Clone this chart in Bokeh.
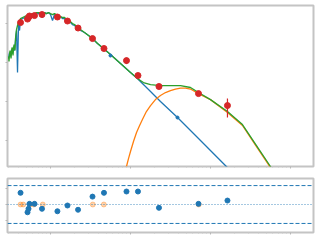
from bokeh.plotting import figure
from bokeh.layouts import column
from bokeh.models import Range1d, FixedTicker, Span
from bokeh.embed import file_html
from bokeh.resources import INLINE

# ---- photosphere model (blue) ----
phot_wl = [0.0299, 0.0307, 0.0316, 0.0326, 0.0335, 0.0345, 0.0355, 0.0365, 0.0376, 0.0387,
           0.0398, 0.0410, 0.0422, 0.0447, 0.0473, 0.0501, 0.0531, 0.0562, 0.0596, 0.0631,
           0.0668, 0.0708, 0.0750, 0.0794, 0.0841, 0.0891, 0.0944, 0.100, 0.106, 0.112,
           0.119, 0.126, 0.133, 0.141, 0.150, 0.158, 0.168, 0.178, 0.188, 0.200,
           0.211, 0.224, 0.237, 0.266, 0.299, 0.335, 0.387, 0.460, 0.562, 0.750,
           1.00, 1.22, 1.78, 2.37, 3.87, 7.50, 15.8, 23.7]
phot_flux = [1.27e-10, 1.80e-10, 1.43e-10, 2.16e-10, 1.70e-10, 2.57e-10, 2.03e-10, 3.66e-10, 6.62e-10, 5.54e-11,
             9.42e-10, 6.62e-10, 1.27e-9, 1.34e-9, 1.43e-9, 1.19e-9, 1.70e-9, 1.51e-9, 1.80e-9, 1.51e-9,
             1.91e-9, 1.80e-9, 1.91e-9, 1.43e-9, 1.91e-9, 1.80e-9, 1.91e-9, 1.70e-9, 1.19e-9, 1.70e-9,
             1.60e-9, 1.27e-9, 1.51e-9, 1.34e-9, 1.34e-9, 1.12e-9, 1.19e-9, 1.06e-9, 9.42e-10, 8.89e-10,
             7.89e-10, 7.44e-10, 6.62e-10, 5.88e-10, 4.92e-10, 4.12e-10, 3.07e-10, 2.29e-10, 1.60e-10, 9.42e-11,
             5.54e-11, 3.89e-11, 1.80e-11, 1.00e-11, 3.89e-12, 1.00e-12, 2.16e-13, 9.42e-14]

# ---- total model (green) ----
total_wl = [0.0299, 0.0303, 0.0307, 0.0312, 0.0316, 0.0321, 0.0326, 0.0330, 0.0335, 0.0340,
            0.0345, 0.0350, 0.0355, 0.0360, 0.0365, 0.0371, 0.0376, 0.0387,
            0.0398, 0.0410, 0.0422, 0.0447, 0.0473, 0.0501, 0.0531, 0.0562, 0.0596, 0.0631,
            0.0668, 0.0708, 0.0750, 0.0794, 0.0841, 0.0891, 0.0944, 0.100, 0.106, 0.112,
            0.119, 0.126, 0.133, 0.141, 0.150, 0.158, 0.168, 0.178, 0.188, 0.200,
            0.211, 0.224, 0.237, 0.266, 0.299, 0.335, 0.387, 0.460, 0.562, 0.750,
            1.00, 1.22, 1.45, 1.78, 2.37, 3.16, 4.22, 5.62, 7.08, 10.0,
            16.3, 25.1, 37.6, 56.2, 75.0]
total_flux = [1.43e-10, 1.06e-10, 1.60e-10, 2.03e-10, 1.80e-10, 1.27e-10, 1.91e-10, 2.43e-10, 2.16e-10, 1.51e-10,
              2.29e-10, 2.90e-10, 2.73e-10, 2.03e-10, 4.12e-10, 5.54e-10, 7.02e-10, 8.89e-10,
              1.06e-9, 1.12e-9, 1.34e-9, 1.43e-9, 1.51e-9, 1.60e-9, 1.70e-9, 1.70e-9, 1.80e-9, 1.70e-9,
              1.91e-9, 1.91e-9, 1.91e-9, 1.80e-9, 1.91e-9, 1.80e-9, 1.91e-9, 1.80e-9, 1.70e-9, 1.80e-9,
              1.70e-9, 1.60e-9, 1.51e-9, 1.43e-9, 1.43e-9, 1.27e-9, 1.19e-9, 1.12e-9, 1.00e-9, 9.42e-10,
              8.38e-10, 7.89e-10, 7.02e-10, 5.88e-10, 4.92e-10, 4.12e-10, 3.07e-10, 2.29e-10, 1.60e-10, 9.42e-11,
              5.54e-11, 3.89e-11, 3.07e-11, 2.73e-11, 2.57e-11, 2.57e-11, 2.57e-11, 2.29e-11, 1.70e-11, 1.12e-11,
              5.54e-12, 2.57e-12, 7.44e-13, 2.16e-13, 8.89e-14]

# ---- dust model (orange) ----
dust_wl = [0.841, 0.891, 0.944, 1.00, 1.09, 1.19, 1.30, 1.41, 1.58, 1.78,
           2.05, 2.37, 2.74, 3.16, 3.65, 4.22, 4.87, 5.62, 7.08, 10.0,
           16.3, 25.1, 37.6, 56.2, 75.0]
dust_flux = [1.27e-13, 2.16e-13, 3.45e-13, 5.23e-13, 9.42e-13, 1.60e-12, 2.43e-12, 3.45e-12, 5.54e-12, 7.89e-12,
             1.12e-11, 1.43e-11, 1.70e-11, 1.91e-11, 2.09e-11, 2.22e-11, 2.22e-11, 2.09e-11, 1.60e-11, 1.12e-11,
             5.23e-12, 2.43e-12, 7.02e-13, 2.03e-13, 8.38e-14]

# ---- observed photometry (red) ----
obs_wl = [0.0422, 0.0516, 0.0531, 0.0546, 0.0631, 0.0783, 0.122, 0.163, 0.221, 0.335,
          0.466, 0.891, 1.24, 2.27, 7.08, 16.3]
obs_flux = [1.06e-9, 1.30e-9, 1.43e-9, 1.56e-9, 1.60e-9, 1.70e-9, 1.47e-9, 1.16e-9, 7.67e-10, 4.12e-10,
            2.29e-10, 1.12e-10, 4.64e-11, 2.43e-11, 1.60e-11, 7.89e-12]
obs_err = [0, 0, 0, 0, 0, 0, 0, 0, 0, 0,
           0, 2.0e-11, 0, 0, 0, 4.0e-12]

# ---- model photometry (small blue dots) ----
mphot_wl = [0.562, 3.87]
mphot_flux = [1.51e-10, 3.89e-12]

# ---- residuals ----
resid = [0.71, -0.47, -0.26, 0.04, 0.04, -0.26, -0.41, -0.06, -0.32, 0.48,
         0.71, 0.79, 0.79, -0.20, 0.04, 0.24]
limit_wl = [0.0422, 0.0456, 0.0551, 0.0618, 0.0801, 0.338, 0.464, 7.13]
limit_resid = [0, 0, 0, 0, 0, 0, 0, 0]
resid_band = [1.15, -1.15]

BLUE, ORANGE, GREEN, RED = "#1f77b4", "#ff7f0e", "#2ca02c", "#d62728"
FRAME = "#c4c4c4"

x_major = [0.1, 1, 10, 100]
x_minor = [k * d for d in (0.01, 0.1, 1, 10, 100) for k in range(2, 10)]

def style(p):
    p.grid.visible = False
    p.outline_line_color = FRAME
    p.outline_line_width = 2
    for ax in p.axis:
        ax.axis_line_color = None
        ax.major_label_text_font_size = "1px"
        ax.major_label_text_alpha = 0
        ax.major_label_standoff = 0
        ax.major_tick_line_color = "#b8b8b8"
        ax.minor_tick_line_color = "#c8c8c8"
        ax.major_tick_out = 2
        ax.major_tick_in = 0
        ax.minor_tick_out = 1
        ax.minor_tick_in = 0
    p.xaxis.ticker = FixedTicker(ticks=x_major, minor_ticks=x_minor)

p1 = figure(width=320, height=172, x_axis_type="log", y_axis_type="log",
            x_range=Range1d(0.0290, 194), y_range=Range1d(2.16e-13, 2.90e-9),
            output_backend="svg", toolbar_location=None,
            min_border_left=7, min_border_right=7, min_border_top=5, min_border_bottom=6)
style(p1)
p1.yaxis.ticker = FixedTicker(ticks=[1e-12, 1e-11, 1e-10, 1e-9], minor_ticks=[])

p1.line(phot_wl, phot_flux, line_color=BLUE, line_width=1.3)
p1.line(dust_wl, dust_flux, line_color=ORANGE, line_width=1.3)
p1.line(total_wl, total_flux, line_color=GREEN, line_width=1.3)
p1.scatter(mphot_wl, mphot_flux, size=3, color=BLUE)
lo = [f - e for f, e in zip(obs_flux, obs_err)]
hi = [f + e for f, e in zip(obs_flux, obs_err)]
p1.segment(x0=obs_wl, y0=lo, x1=obs_wl, y1=hi, line_color=RED, line_width=1.2)
p1.scatter(obs_wl, obs_flux, size=6, color=RED)

p2 = figure(width=320, height=68, x_axis_type="log",
            x_range=Range1d(0.0290, 194), y_range=Range1d(-1.70, 1.58),
            output_backend="svg", toolbar_location=None,
            min_border_left=7, min_border_right=7, min_border_top=6, min_border_bottom=8)
style(p2)
p2.yaxis.ticker = FixedTicker(ticks=[-1, 0, 1], minor_ticks=[])
for v in resid_band:
    p2.add_layout(Span(location=v, dimension="width", line_color=BLUE, line_dash="4 2", line_width=1))
p2.add_layout(Span(location=0, dimension="width", line_color=BLUE, line_dash="1 2", line_width=1, line_alpha=0.8))
p2.scatter(limit_wl, limit_resid, size=5, color=ORANGE, alpha=0.35)
p2.scatter(obs_wl, resid, size=5, color=BLUE)

layout = column(p1, p2)
open("out.html", "w").write(file_html(layout, INLINE))
